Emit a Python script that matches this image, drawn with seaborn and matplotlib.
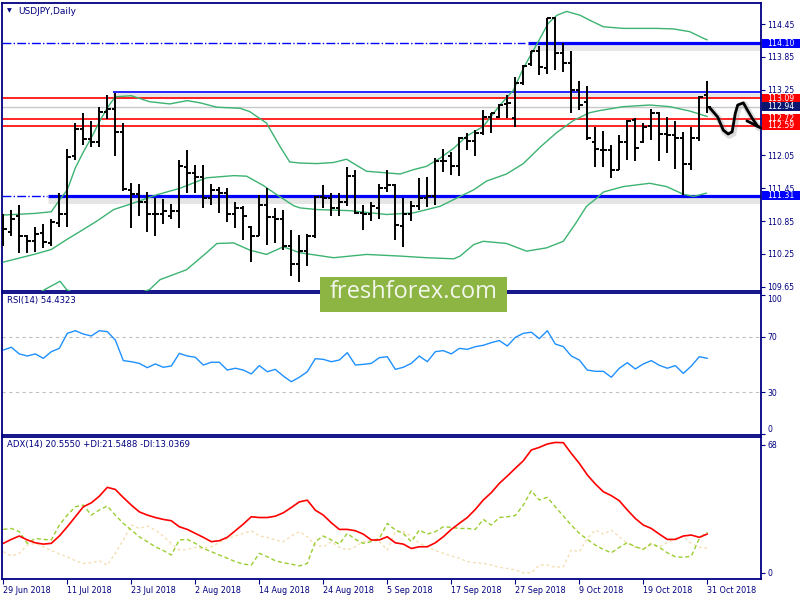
import matplotlib
matplotlib.use("Agg")
import matplotlib.pyplot as plt
import matplotlib.transforms as mtransforms
from matplotlib.patches import Rectangle
import numpy as np
import seaborn as sns

# Velas diarias USDJPY (29 Jun - 31 Oct 2018)
aperturas = [110.63, 110.65, 110.95, 110.58, 110.48, 110.63, 110.45, 110.82, 110.97, 112.03,
             112.53, 112.35, 112.29, 112.85, 112.89, 112.47, 111.42, 111.34, 111.19, 110.97,
             110.97, 110.95, 111.04, 111.84, 111.73, 111.65, 111.27, 111.42, 111.36, 110.97,
             111.09, 110.74, 110.57, 111.15, 110.93, 110.89, 110.39, 110.07, 110.30, 110.58,
             111.29, 111.27, 111.09, 111.19, 111.68, 111.00, 110.97, 111.09, 111.45, 111.50,
             110.76, 110.97, 111.12, 111.27, 111.30, 111.94, 112.04, 111.86, 112.37, 112.31,
             112.46, 112.75, 112.76, 112.99, 112.74, 113.37, 113.72, 113.96, 113.64, 114.56,
             113.92, 113.73, 113.25, 113.03, 112.30, 112.14, 112.14, 111.79, 112.29, 112.70,
             112.30, 112.58, 112.82, 112.44, 112.42, 112.36, 111.90, 112.36, 113.15]
maximos = [110.97, 111.06, 111.15, 110.60, 110.75, 110.79, 110.89, 111.36, 112.17, 112.65,
           112.82, 112.67, 112.94, 113.16, 113.19, 112.64, 111.55, 111.53, 111.38, 111.27,
           111.25, 111.17, 111.97, 112.15, 111.88, 111.88, 111.53, 111.47, 111.45, 111.19,
           111.13, 110.76, 111.33, 111.45, 111.09, 111.06, 110.69, 110.60, 110.62, 111.30,
           111.50, 111.36, 111.36, 111.84, 111.78, 111.15, 111.19, 111.53, 111.78, 111.53,
           111.27, 111.21, 111.64, 111.65, 112.00, 112.17, 112.12, 112.38, 112.46, 112.51,
           112.88, 112.83, 112.99, 113.16, 113.49, 113.70, 113.95, 114.04, 114.56, 114.57,
           114.10, 113.96, 113.40, 113.31, 112.57, 112.50, 112.24, 112.42, 112.69, 112.73,
           112.65, 112.89, 112.85, 112.75, 112.67, 112.47, 112.56, 113.14, 113.40]
minimos = [110.39, 110.57, 110.27, 110.27, 110.28, 110.36, 110.39, 110.75, 110.75, 111.97,
           112.24, 112.21, 112.21, 112.71, 112.04, 111.39, 110.72, 110.95, 110.65, 110.57,
           110.79, 110.89, 110.72, 111.36, 111.36, 111.09, 111.15, 111.00, 110.83, 110.72,
           110.51, 110.10, 110.57, 110.42, 110.45, 110.32, 109.85, 109.74, 110.03, 110.54,
           111.09, 110.94, 110.95, 111.12, 110.97, 110.68, 110.85, 110.89, 111.38, 110.51,
           110.37, 110.85, 111.06, 111.11, 111.15, 111.74, 111.70, 111.67, 112.15, 112.03,
           112.43, 112.45, 112.73, 112.73, 112.56, 113.34, 113.69, 113.52, 113.53, 113.61,
           113.58, 112.82, 112.88, 112.33, 111.84, 111.84, 111.63, 111.78, 111.96, 111.94,
           112.28, 112.33, 111.94, 112.09, 111.80, 111.33, 111.79, 112.32, 112.82]
cierres = [110.71, 110.89, 110.58, 110.48, 110.62, 110.46, 110.83, 110.97, 112.02, 112.53,
           112.35, 112.29, 112.85, 112.89, 112.47, 111.44, 111.34, 111.19, 110.97, 110.97,
           111.04, 111.04, 111.85, 111.73, 111.65, 111.27, 111.42, 111.36, 110.97, 111.09,
           110.94, 110.57, 111.15, 110.93, 110.89, 110.39, 110.07, 110.30, 110.57, 111.29,
           111.27, 111.09, 111.19, 111.68, 111.00, 110.97, 111.12, 111.45, 111.50, 110.77,
           110.97, 111.12, 111.27, 111.30, 111.94, 111.94, 111.86, 112.37, 112.31, 112.45,
           112.75, 112.82, 112.97, 113.00, 113.37, 113.69, 113.95, 113.67, 114.56, 113.92,
           113.73, 113.25, 112.97, 112.36, 112.16, 112.14, 111.79, 112.29, 112.67, 112.18,
           112.57, 112.82, 112.44, 112.42, 112.36, 111.90, 112.36, 113.11, 112.94]

# Bandas de Bollinger (muestras: índice de vela, precio)
banda_sup_idx = [0, 4, 6, 7, 8, 9, 10, 11, 12, 13, 14, 16, 18.3, 20.8, 23, 24.6, 26.7, 29.6, 30.8,
                 32.9, 34.6, 35.8, 37.1, 39.2, 41.3, 42.9, 45.4, 47.9, 49.6, 51.3, 52.9, 54.6, 56.3,
                 57.9, 60.0, 62.1, 63.75, 65.0, 67.1, 68.1, 69.2, 70.4, 72.1, 73.3, 75.0, 77.5, 81.7,
                 83.8, 85.8, 87.5, 88]
banda_sup = [110.96, 110.99, 111.02, 111.23, 111.42, 111.82, 112.11, 112.37, 112.66, 112.92, 113.12,
             113.14, 113.03, 112.99, 113.05, 113.01, 112.93, 112.91, 112.85, 112.64, 112.21, 111.93,
             111.91, 111.90, 111.92, 111.98, 111.76, 111.73, 111.71, 111.79, 111.85, 112.00, 112.18,
             112.40, 112.58, 112.97, 113.24, 113.64, 114.19, 114.46, 114.61, 114.68, 114.61, 114.52,
             114.40, 114.37, 114.37, 114.36, 114.31, 114.19, 114.16]
banda_med_idx = [0.0, 3.8, 6.0, 7.9, 9.6, 11.7, 13.8, 16.3, 19.2, 22.1, 25.4, 28.8, 30.4, 32.5, 34.2,
                 36.3, 37.1, 39.2, 43.3, 47.9, 51.3, 54.6, 57.1, 58.8, 60.4, 62.9, 65.0, 67.1, 69.2,
                 71.3, 73.3, 74.6, 77.5, 80.8, 83.3, 85.8, 88.0]
banda_med = [110.10, 110.24, 110.33, 110.51, 110.66, 110.85, 111.06, 111.18, 111.33, 111.45, 111.64,
             111.68, 111.67, 111.50, 111.33, 111.13, 111.09, 111.06, 111.04, 110.97, 111.00, 111.12,
             111.30, 111.42, 111.58, 111.71, 111.90, 112.20, 112.47, 112.69, 112.83, 112.87, 112.94,
             112.97, 112.94, 112.86, 112.76]
banda_inf_idx = [0, 3, 5.2, 7.1, 7.9, 10, 14, 18.3, 19.6, 22.9, 25.4, 26.7, 28.8, 30.8, 32.9, 35.0,
                 37.1, 41.3, 45.4, 49.6, 52.9, 56.3, 57.1, 58.8, 60.0, 62.9, 65.4, 67.9, 70.0, 71.6,
                 72.9, 74.2, 75.0, 77.5, 80.8, 82.9, 85.0, 86.3, 87.9]
banda_inf = [109.30, 109.42, 109.60, 109.75, 109.60, 109.45, 109.38, 109.60, 109.78, 109.96, 110.27,
             110.44, 110.45, 110.32, 110.24, 110.38, 110.27, 110.18, 110.24, 110.21, 110.18, 110.16,
             110.21, 110.42, 110.48, 110.44, 110.30, 110.36, 110.48, 110.82, 111.12, 111.27, 111.38,
             111.48, 111.54, 111.48, 111.34, 111.30, 111.36]

# Indicadores
rsi = [60.4, 62.4, 57.6, 56.1, 57.6, 54.4, 59.2, 61.6, 72.4, 74.3,
       71.9, 70.5, 74.3, 73.6, 67.6, 52.8, 52.0, 50.8, 47.7, 50.4,
       48.0, 48.9, 58.0, 56.1, 55.2, 49.6, 51.6, 51.6, 46.0, 47.3,
       46.0, 43.2, 49.2, 44.8, 46.5, 41.7, 37.6, 40.8, 44.8, 54.2,
       53.7, 52.0, 53.2, 58.5, 49.6, 50.1, 50.8, 54.9, 55.6, 46.5,
       48.0, 50.8, 56.1, 52.0, 59.2, 60.0, 57.6, 61.6, 60.9, 62.8,
       63.8, 65.7, 67.2, 63.3, 69.5, 72.4, 73.2, 68.6, 74.3, 64.7,
       62.8, 56.1, 53.2, 46.0, 45.1, 45.1, 40.8, 47.3, 51.3, 46.8,
       50.4, 52.8, 49.4, 47.3, 49.2, 43.6, 48.9, 55.6, 54.43]
adx = [15.6, 17.7, 19.5, 17.4, 15.9, 15.2, 15.6, 19.5, 24.4, 29.7,
       35.0, 37.1, 40.6, 45.3, 44.2, 39.9, 35.9, 32.3, 30.6, 29.3,
       28.3, 27.6, 24.4, 23.0, 20.9, 18.8, 16.5, 17.0, 18.8, 22.3,
       25.8, 29.7, 29.3, 29.3, 30.0, 31.8, 34.6, 37.6, 38.5, 33.2,
       30.6, 26.5, 23.0, 23.0, 22.3, 20.5, 17.4, 17.4, 19.1, 15.9,
       15.2, 12.9, 13.8, 13.8, 15.9, 19.1, 23.0, 26.2, 29.3, 33.6,
       38.6, 42.5, 47.4, 51.3, 55.4, 59.4, 65.1, 66.5, 68.3, 69.1,
       69.0, 63.3, 58.0, 51.9, 47.1, 43.0, 40.9, 38.2, 33.3, 28.8,
       25.3, 23.5, 20.5, 17.7, 17.7, 19.5, 20.0, 18.8, 20.56]
di_mas = [23.0, 23.5, 21.8, 15.6, 18.2, 17.7, 17.4, 25.3, 30.6, 35.0,
          35.9, 30.6, 33.3, 35.4, 30.6, 26.2, 22.7, 19.1, 16.5, 13.8,
          11.8, 9.4, 17.4, 17.7, 15.6, 12.9, 11.2, 9.4, 7.7, 5.9,
          4.6, 4.1, 10.3, 8.5, 6.4, 5.3, 4.6, 3.6, 5.0, 16.5,
          19.5, 17.4, 15.2, 20.9, 17.7, 15.6, 16.5, 18.2, 26.2, 22.7,
          20.9, 16.5, 22.7, 20.5, 21.8, 24.4, 24.1, 23.5, 23.5, 23.0,
          28.3, 25.3, 29.3, 29.7, 30.4, 35.9, 43.5, 38.6, 40.0, 35.0,
          30.1, 25.3, 20.9, 17.7, 14.7, 12.4, 10.6, 13.5, 16.0, 13.8,
          12.4, 15.6, 13.5, 10.6, 8.5, 8.2, 8.8, 18.2, 21.55]
di_menos = [11.2, 8.9, 10.3, 14.7, 15.6, 13.8, 11.8, 10.0, 8.5, 6.4,
            5.0, 5.3, 6.4, 4.1, 10.3, 17.4, 25.3, 23.5, 24.8, 22.7,
            19.5, 15.6, 12.1, 12.4, 13.5, 12.9, 13.8, 16.0, 18.2, 19.5,
            20.9, 22.3, 19.5, 18.8, 17.4, 16.5, 19.5, 21.8, 19.1, 14.7,
            13.8, 16.5, 13.5, 12.1, 13.8, 16.5, 17.4, 16.5, 12.1, 21.8,
            21.8, 19.5, 15.6, 13.8, 11.8, 10.3, 8.9, 7.7, 5.9, 5.3,
            5.0, 4.1, 2.9, 2.3, 1.5, 0.0, 0.0, 4.1, 4.1, 2.9,
            3.2, 12.1, 11.2, 18.2, 22.7, 20.5, 22.7, 19.1, 15.6, 13.5,
            12.9, 14.7, 13.8, 16.0, 18.2, 19.1, 15.6, 13.5, 13.04]

fechas = ["29 Jun 2018", "11 Jul 2018", "23 Jul 2018", "2 Aug 2018", "14 Aug 2018", "24 Aug 2018",
          "5 Sep 2018", "17 Sep 2018", "27 Sep 2018", "9 Oct 2018", "19 Oct 2018", "31 Oct 2018"]
ticks_precio = [109.65, 110.25, 110.85, 111.45, 112.05, 112.65, 113.25, 113.85, 114.45]

# Niveles horizontales y etiquetas de la derecha
nivel_azul_sup = 114.10
nivel_azul_inf = 111.31
nivel_azul_fino = 113.20
niveles_rojos = [113.09, 112.72, 112.59]
precio_bid = 112.94
etiquetas = [(114.10, "#0000ff"), (113.09, "#ff0000"), (112.94, "#0a1670"),
             (112.72, "#ff0000"), (112.59, "#ff0000"), (111.31, "#0000ff")]

# Trazo a mano (onda con flecha) a la derecha
onda_x = [88.3, 89.3, 90.0, 90.6, 91.1, 91.5, 91.8, 92.5, 93.0, 93.6, 94.3]
onda_y = [112.92, 112.75, 112.51, 112.44, 112.48, 112.82, 112.97, 113.01, 112.88, 112.73, 112.58]
flecha_x = [92.95, 94.7]
flecha_y = [112.68, 112.55]

sns.set_style("white")
plt.rcParams['font.family'] = ['DejaVu Sans']
NAVY = "#000080"
idx = np.arange(len(cierres))

fig = plt.figure(figsize=(8, 6), dpi=100)


def panel(y0, y1):
    x0, x1 = 2.3, 761
    return fig.add_axes([x0 / 800, 1 - y1 / 600, (x1 - x0) / 800, (y1 - y0) / 600])


ax1 = panel(3, 291)
ax2 = panel(293, 435)
ax3 = panel(437, 579)
for ax in (ax1, ax2, ax3):
    ax.set_xlim(-0.125, 94.71)
    for s in ax.spines.values():
        s.set_color(NAVY)
        s.set_linewidth(1.3)
    ax.yaxis.tick_right()
    ax.tick_params(axis='y', right=True, left=False, labelright=True, labelleft=False, length=3,
                   width=0.8, color=NAVY, labelcolor=NAVY, labelsize=5.6, pad=1.5)
    ax.set_xlabel("")
    ax.set_ylabel("")

# ---- Panel principal ----
ax1.set_ylim(109.572, 114.834)
ax1.set_yticks(ticks_precio)
# 112.65 queda tapado por las etiquetas de nivel
ax1.set_yticklabels(["" if t == 112.65 else f"{t:.2f}" for t in ticks_precio])
ax1.set_xticks([])

xmin, xmax = -0.125, 94.71
# sombras de las líneas
ax1.hlines(nivel_azul_sup - 0.07, 65.6, xmax, color="#999999", lw=5, alpha=0.25, zorder=1)
ax1.hlines(nivel_azul_inf - 0.07, 5.6, xmax, color="#999999", lw=5, alpha=0.25, zorder=1)
ax1.hlines(nivel_azul_fino - 0.06, 13.7, xmax, color="#aaaaaa", lw=4, alpha=0.3, zorder=1)

ax1.hlines(precio_bid, xmin, xmax, color="#c8c8c8", lw=1, zorder=1.5)
for nv in niveles_rojos:
    ax1.hlines(nv, xmin, xmax, color="#ff0000", lw=1.2, zorder=2)
ax1.hlines(nivel_azul_fino, 13.7, xmax, color="#0000ff", lw=1.2, zorder=2)
ax1.hlines(nivel_azul_sup, xmin, 65.2, color="#0000ff", lw=1, linestyles="dashdot", zorder=2)
ax1.hlines(nivel_azul_sup, 65.6, xmax, color="#0000ff", lw=2.3, zorder=2)
ax1.hlines(nivel_azul_inf, xmin, 5.4, color="#0000ff", lw=1, linestyles="dashdot", zorder=2)
ax1.hlines(nivel_azul_inf, 5.6, xmax, color="#0000ff", lw=2.3, zorder=2)

for bx, by in ((banda_sup_idx, banda_sup), (banda_med_idx, banda_med), (banda_inf_idx, banda_inf)):
    sns.lineplot(x=bx, y=by, ax=ax1, color="#3cb371", linewidth=1, legend=False, zorder=3)

# barras OHLC
ax1.vlines(idx, minimos, maximos, color="black", lw=1.4, zorder=4)
ax1.hlines(aperturas, idx - 0.4, idx, color="black", lw=1.4, zorder=4)
ax1.hlines(cierres, idx, idx + 0.4, color="black", lw=1.4, zorder=4)

# onda a mano
ax1.plot(np.array(onda_x) + 0.15, np.array(onda_y) - 0.03, color="#777777", lw=4.5, alpha=0.25,
         clip_on=False, zorder=5)
ax1.plot(onda_x, onda_y, color="black", lw=2, solid_capstyle="round", clip_on=False, zorder=5)
ax1.plot(flecha_x, flecha_y, color="black", lw=2, solid_capstyle="round", clip_on=False, zorder=5)

trans = mtransforms.blended_transform_factory(ax1.transAxes, ax1.transData)
alto = 9 / 54.73
for valor, color in etiquetas:
    ax1.add_patch(Rectangle((1.0013, valor - alto / 2), 0.052, alto, transform=trans, fc=color,
                            ec="none", clip_on=False, zorder=6))
    ax1.text(1.0075, valor, f"{valor:.2f}", transform=trans, color="white", fontsize=5.6,
             va="center", ha="left", zorder=7, clip_on=False)

ax1.text(0.0062, 0.972, "▼", transform=ax1.transAxes, color=NAVY, fontsize=4.5, va="center")
ax1.text(0.021, 0.972, "USDJPY,Daily", transform=ax1.transAxes, color=NAVY, fontsize=6.5,
         va="center")

# ---- RSI ----
ax2.set_ylim(-0.7, 101.4)
sns.lineplot(x=idx, y=rsi, ax=ax2, color="#1e90ff", linewidth=1, legend=False)
for nv in (70, 30):
    ax2.axhline(nv, color="#c0c0c0", lw=0.8, ls=(0, (3, 3)), zorder=1)
ax2.set_yticks([0, 30, 70, 100])
ax2.set_yticklabels(["0", "30", "70", "100"])
lbls = ax2.get_yticklabels()
lbls[0].set_verticalalignment("bottom")
lbls[3].set_verticalalignment("top")
ax2.set_xticks([])
ax2.text(0.0062, 0.944, "RSI(14) 54.4323", transform=ax2.transAxes, color=NAVY, fontsize=6.1,
         va="center")

# ---- ADX ----
ax3.set_ylim(-3.3, 72.0)
sns.lineplot(x=idx, y=di_menos, ax=ax3, color="#f5deb3", linewidth=1, linestyle=(0, (2, 2)),
             legend=False)
sns.lineplot(x=idx, y=di_mas, ax=ax3, color="#9acd32", linewidth=1, linestyle=(0, (3, 2)),
             legend=False)
sns.lineplot(x=idx, y=adx, ax=ax3, color="#ff0000", linewidth=1.2, legend=False)
ax3.set_yticks([0, 68])
ax3.set_yticklabels(["0", "68"])
ax3.set_xticks(range(0, 89, 8))
ax3.set_xticklabels(fechas)
ax3.tick_params(axis='x', bottom=True, length=3.5, width=0.8, color=NAVY, labelcolor=NAVY,
                labelsize=5.8, pad=1.5)
for lb in ax3.get_xticklabels():
    lb.set_horizontalalignment("left")
ax3.text(0.0062, 0.944, "ADX(14) 20.5550 +DI:21.5488 -DI:13.0369", transform=ax3.transAxes,
         color=NAVY, fontsize=6.1, va="center")

# marca de agua
fig.add_artist(Rectangle((320 / 800, 1 - 312 / 600), 187 / 800, 35 / 600, transform=fig.transFigure,
                         fc="#8db543", ec="none", zorder=10))
fig.text(413.5 / 800, 1 - 292.5 / 600, "freshforex.com", fontsize=17, family="Open Sans",
         color="#f3f6ec", ha="center", va="center", zorder=11)

fig.savefig("out.png", dpi=100, facecolor="white")
